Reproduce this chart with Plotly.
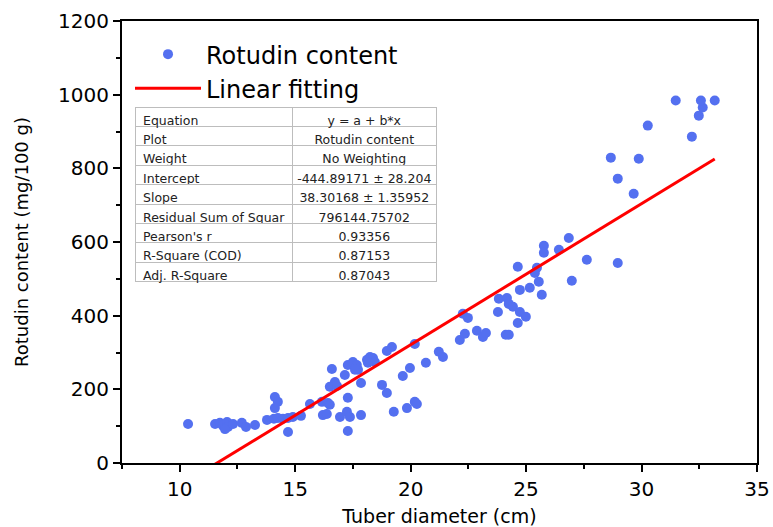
import plotly.graph_objects as go

# Tuber diameter (cm) and rotudin content (mg/100 g)
diameter = [10.36, 11.53, 11.74, 11.87, 12.05, 12.09, 11.96, 12.31, 12.69, 12.87,
            13.26, 13.78, 14.08, 14.25, 14.47, 14.69, 14.90, 14.12, 14.25, 14.12,
            14.69, 15.25, 15.64, 16.16, 16.42, 16.50, 16.20, 16.37, 16.50, 16.72,
            16.81, 16.59, 17.15, 17.28, 16.94, 17.24, 17.37, 17.28, 17.85, 17.85,
            17.28, 17.50, 17.67, 17.72, 17.59, 18.11, 18.24, 18.37, 18.45, 18.15,
            18.76, 18.97, 18.97, 19.19, 19.27, 19.66, 19.97, 19.84, 20.18, 20.27,
            20.18, 20.66, 21.22, 21.40, 22.13, 22.35, 22.26, 22.48, 22.87, 23.13,
            23.26, 23.78, 23.82, 24.17, 24.25, 24.43, 24.12, 24.25, 24.64, 24.73,
            25.16, 24.73, 24.99, 24.64, 25.38, 25.47, 25.55, 25.68, 25.77, 25.77,
            26.42, 26.85, 27.63, 26.98, 28.97, 29.66, 28.97, 28.67, 29.88, 30.27,
            32.18, 32.48, 32.65, 31.48, 32.57, 33.17]
content = [106, 106, 109, 101, 111, 98, 92, 106, 109, 98,
           103, 117, 120, 122, 120, 122, 125, 179, 166, 149,
           84, 128, 160, 166, 163, 158, 130, 133, 207, 220,
           209, 255, 239, 177, 125, 139, 125, 87, 130, 217,
           266, 274, 266, 253, 253, 280, 288, 285, 274, 272,
           212, 190, 304, 315, 139, 236, 258, 149, 166, 160,
           323, 272, 302, 288, 334, 351, 405, 394, 359, 342,
           353, 410, 446, 448, 432, 424, 348, 348, 533, 470,
           476, 410, 397, 380, 516, 530, 492, 457, 590, 571,
           579, 611, 552, 495, 543, 731, 772, 829, 826, 916,
           886, 943, 965, 984, 984, 984]

# Fit parameters (from the table)
intercept = -444.89171
slope = 38.30168

table_labels = ["Equation", "Plot", "Weight", "Intercept", "Slope",
                "Residual Sum of Squar", "Pearson's r", "R-Square (COD)", "Adj. R-Square"]
table_values = ["y = a + b*x", "Rotudin content", "No Weighting",
                "-444.89171 ± 28.204", "38.30168 ± 1.35952", "796144.75702",
                "0.93356", "0.87153", "0.87043"]

x_ticks = [10, 15, 20, 25, 30, 35]
y_ticks = [0, 200, 400, 600, 800, 1000, 1200]

FONT = "DejaVu Sans, Liberation Sans, Arial, sans-serif"
NBSP = "\u00a0"

fit_x = [min(diameter), max(diameter)]
fit_y = [intercept + slope * v for v in fit_x]

lab = [s.replace(" ", NBSP) for s in table_labels]
val = [s.replace(" ", NBSP) for s in table_values]

fig = go.Figure()
fig.add_trace(go.Scatter(
    x=diameter, y=content, mode="markers", name="Rotudin content",
    marker=dict(color="#5470F0", size=10, line=dict(width=0)),
))
fig.add_trace(go.Scatter(
    x=fit_x, y=fit_y, mode="lines", name="Linear fitting",
    line=dict(color="#FF0000", width=3),
))
fig.add_trace(go.Table(
    domain=dict(x=[0.0205, 0.496], y=[0.40, 0.805]),
    columnwidth=[158, 144],
    header=dict(values=[lab[0], val[0]],
                align=["left", "center"], height=19.4,
                fill_color="white", line=dict(color="#BDBDBD", width=1),
                font=dict(family=FONT, size=12.5, color="#222222")),
    cells=dict(values=[lab[1:], val[1:]],
               align=["left", "center"], height=19.4,
               fill_color="white", line=dict(color="#BDBDBD", width=1),
               font=dict(family=FONT, size=12.5, color="#222222")),
))

fig.update_layout(
    width=773, height=527,
    margin=dict(l=122, r=16, t=21, b=64),
    paper_bgcolor="white", plot_bgcolor="white",
    font=dict(family=FONT, color="black"),
    showlegend=True,
    legend=dict(x=0.0126, y=0.975, xanchor="left", yanchor="top",
                bgcolor="rgba(0,0,0,0)", font=dict(size=24, family=FONT),
                itemwidth=66, tracegroupgap=0),
    xaxis=dict(
        range=[7.5, 35], tickvals=x_ticks, showgrid=False, zeroline=False,
        automargin=False,
        showline=True, linewidth=2, linecolor="black", mirror=True,
        ticks="outside", ticklen=7, tickwidth=2, tickcolor="black",
        minor=dict(dtick=2.5, tick0=0, ticks="outside", ticklen=4, tickwidth=2, tickcolor="black"),
        tickfont=dict(size=20), title=dict(text="Tuber diameter (cm)", font=dict(size=19), standoff=11),
    ),
    yaxis=dict(
        range=[0, 1200], tickvals=y_ticks, showgrid=False, zeroline=False,
        automargin=False,
        showline=True, linewidth=2, linecolor="black", mirror=True,
        ticks="outside", ticklen=7, tickwidth=2, tickcolor="black",
        minor=dict(dtick=100, tick0=0, ticks="outside", ticklen=4, tickwidth=2, tickcolor="black"),
        tickfont=dict(size=20), title=dict(text="Rotudin content (mg/100 g)", font=dict(size=18), standoff=25),
    ),
)

fig.write_html("out.html", config={"displayModeBar": False},
               post_script="document.body.style.margin='0';")
